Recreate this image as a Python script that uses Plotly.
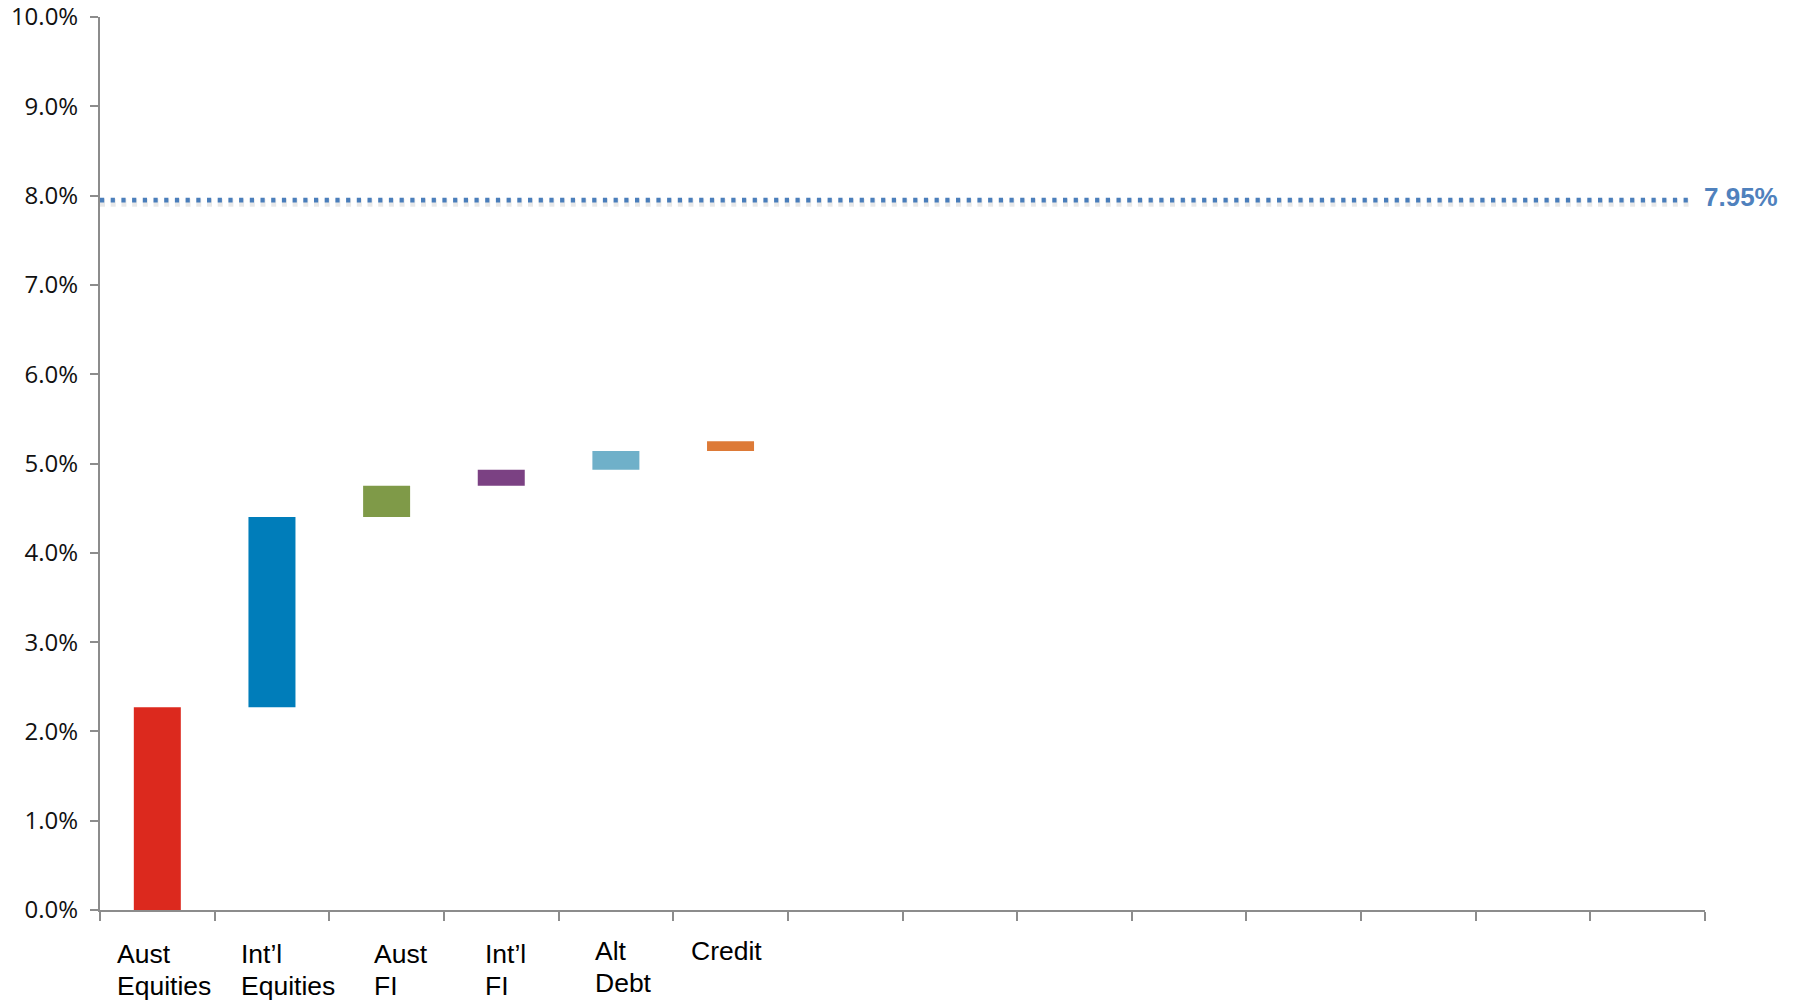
import plotly.graph_objects as go

# Contribution of each asset class to total expected return (percentage points)
categories = ["Aust<br>Equities", "Int’l<br>Equities", "Aust<br>FI", "Int’l<br>FI", "Alt<br>Debt", "Credit"]
contributions = [2.27, 2.13, 0.35, 0.18, 0.21, 0.11]
bar_colors = ["#DC291E", "#007DBA", "#7F9A48", "#7B4183", "#6FB0C9", "#DD7A37"]
n_slots = 14  # total category slots along the x axis
target_return = 7.95
y_ticks = [0, 1, 2, 3, 4, 5, 6, 7, 8, 9, 10]

# Hand-placed label offsets (px) from each slot centre: left edge / vertical nudge
label_xshift = [-42, -33, -15, -18, -23, -42]
label_yshift = [0, 0, 0, 0, 3, 3]
label_line_gap = 32

# Floating bars: each starts where the previous one ended
bases = []
running = 0.0
for c in contributions:
    bases.append(running)
    running += c

x_idx = list(range(len(contributions)))

fig = go.Figure()

fig.add_trace(go.Bar(
    x=x_idx,
    y=contributions,
    base=bases,
    width=0.41,
    marker=dict(color=bar_colors, line=dict(width=0)),
    hoverinfo="skip",
    showlegend=False,
))

# Soft shadow under the target line
fig.add_trace(go.Scatter(
    x=[-0.5, n_slots - 0.6],
    y=[target_return - 0.03, target_return - 0.03],
    mode="lines",
    line=dict(color="rgba(0,0,0,0.09)", width=8, dash="5px,5.7px"),
    hoverinfo="skip",
    showlegend=False,
    cliponaxis=False,
))

# Target return line
fig.add_trace(go.Scatter(
    x=[-0.5, n_slots - 0.6],
    y=[target_return, target_return],
    mode="lines",
    line=dict(color="#4A7EBB", width=4.8, dash="4.2px,6.5px"),
    hoverinfo="skip",
    showlegend=False,
    cliponaxis=False,
))

fig.add_annotation(
    x=n_slots - 0.6, y=target_return,
    xref="x", yref="y",
    text=f"<b>{target_return:.2f}%</b>",
    showarrow=False,
    xanchor="left", yanchor="middle",
    xshift=8, yshift=3,
    font=dict(family="Liberation Sans, Arial, sans-serif", size=26, color="#4F81BD"),
)

# Category labels: one annotation per text line, left-aligned under each slot
for i, label in enumerate(categories):
    for j, line in enumerate(label.split("<br>")):
        fig.add_annotation(
            x=i, y=0,
            xref="x", yref="paper",
            text=line,
            showarrow=False,
            xanchor="left", yanchor="top",
            xshift=label_xshift[i],
            yshift=-27 + label_yshift[i] - j * label_line_gap,
            font=dict(family="Liberation Sans, Arial, sans-serif", size=26.5, color="#000000"),
        )

fig.update_xaxes(
    range=[-0.5, n_slots - 0.5],
    tickmode="array",
    tickvals=[i - 0.5 for i in range(n_slots + 1)],
    ticktext=[""] * (n_slots + 1),
    ticks="outside",
    ticklen=9,
    tickwidth=1.5,
    tickcolor="#8C8C8C",
    showline=True,
    linecolor="#8C8C8C",
    linewidth=2,
    showgrid=False,
    zeroline=False,
    automargin=False,
    fixedrange=True,
)

fig.update_yaxes(
    range=[0, 10],
    tickmode="array",
    tickvals=y_ticks,
    ticktext=[f"{v:.1f}%" for v in y_ticks],
    ticks="outside",
    ticklen=8,
    tickwidth=1.5,
    tickcolor="#8C8C8C",
    ticklabelstandoff=7,
    ticklabeloverflow="allow",
    showline=True,
    linecolor="#8C8C8C",
    linewidth=2,
    showgrid=False,
    zeroline=False,
    automargin=False,
    tickfont=dict(family="Open Sans, sans-serif", size=24, color="#111111"),
    fixedrange=True,
)

fig.update_layout(
    width=1794,
    height=1002,
    margin=dict(l=100, r=89, t=17, b=92),
    plot_bgcolor="#FFFFFF",
    paper_bgcolor="#FFFFFF",
    bargap=0.59,
)

fig.write_html("out.html", include_plotlyjs=True, config={"displayModeBar": False})
